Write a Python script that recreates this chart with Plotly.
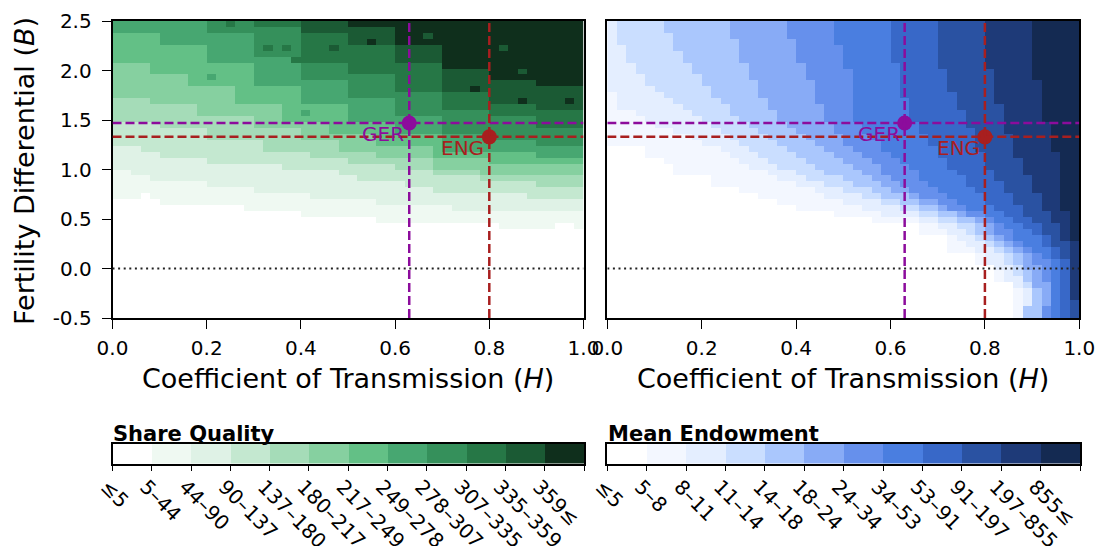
import numpy as np
import plotly.graph_objects as go

# ---------------- data ----------------
# Bin labels of the two classified colour scales
green_labels = ["≤5", "5–44", "44–90", "90–137", "137–180", "180–217", "217–249",
                "249–278", "278–307", "307–335", "335–359", "359≤"]
blue_labels = ["≤5", "5–8", "8–11", "11–14", "14–18", "18–24", "24–34",
               "34–53", "53–91", "91–197", "197–855", "855≤"]

green_colors = ["#ffffff", "#eff9f2", "#dff2e6", "#c4e8d0", "#a5dcb8", "#86d0a0",
                "#63c086", "#47a771", "#35905b", "#267746", "#1b5a34", "#0f2f1c"]
blue_colors = ["#ffffff", "#f3f7ff", "#e4eeff", "#cadeff", "#aac7fd", "#88abf6",
               "#6690ec", "#4a7ee0", "#3868c8", "#2a52a2", "#1e3a78", "#142a52"]

# Grid of the simulation: 50 values of H (0..1) x 50 values of B (-0.5..2.5)
h_values = (np.arange(50) + 0.5) / 50
b_values = -0.5 + (np.arange(50) + 0.5) * 0.06

# Share Quality: for each H column, the B above which the share exceeds each class limit
g_t1 = [0.70, 0.70, 0.70, 0.76, 0.70, 0.64, 0.64, 0.64, 0.64, 0.64,
        0.64, 0.64, 0.64, 0.64, 0.58, 0.58, 0.58, 0.58, 0.58, 0.58,
        0.52, 0.52, 0.52, 0.52, 0.52, 0.52, 0.52, 0.52, 0.46, 0.46,
        0.46, 0.46, 0.46, 0.46, 0.46, 0.46, 0.46, 0.46, 0.46, 0.46,
        0.46, 0.40, 0.40, 0.40, 0.40, 0.40, 0.40, 0.46, 0.46, 0.40]
g_t2 = [1.00, 1.00, 0.94, 0.94, 0.88, 0.88, 0.88, 0.88, 0.88, 0.88,
        0.82, 0.82, 0.82, 0.82, 0.82, 0.76, 0.76, 0.76, 0.76, 0.76,
        0.76, 0.70, 0.70, 0.70, 0.70, 0.70, 0.70, 0.70, 0.64, 0.64,
        0.64, 0.64, 0.64, 0.64, 0.64, 0.64, 0.58, 0.58, 0.58, 0.58,
        0.58, 0.58, 0.58, 0.58, 0.58, 0.58, 0.58, 0.58, 0.58, 0.58]
g_t3 = [1.24, 1.24, 1.24, 1.18, 1.18, 1.12, 1.12, 1.12, 1.12, 1.12,
        1.06, 1.06, 1.06, 1.06, 1.06, 1.06, 1.06, 1.06, 1.00, 1.00,
        1.00, 1.00, 1.00, 1.00, 0.94, 0.94, 0.88, 0.88, 0.88, 0.88,
        0.88, 0.82, 0.82, 0.82, 0.76, 0.76, 0.76, 0.76, 0.76, 0.76,
        0.76, 0.76, 0.76, 0.76, 0.70, 0.70, 0.70, 0.70, 0.70, 0.70]
g_t4 = [1.48, 1.48, 1.48, 1.48, 1.48, 1.42, 1.42, 1.42, 1.42, 1.42,
        1.30, 1.30, 1.30, 1.30, 1.30, 1.30, 1.18, 1.18, 1.18, 1.18,
        1.18, 1.12, 1.12, 1.12, 1.12, 1.06, 1.06, 1.06, 1.06, 1.06,
        1.00, 1.00, 1.00, 1.00, 0.94, 0.94, 0.94, 0.94, 0.94, 0.88,
        0.88, 0.88, 0.88, 0.88, 0.88, 0.82, 0.82, 0.82, 0.82, 0.82]
g_t5 = [1.72, 1.72, 1.72, 1.72, 1.66, 1.66, 1.66, 1.66, 1.66, 1.54,
        1.54, 1.54, 1.54, 1.54, 1.54, 1.42, 1.42, 1.42, 1.42, 1.42,
        1.30, 1.30, 1.30, 1.30, 1.18, 1.18, 1.18, 1.18, 1.12, 1.12,
        1.12, 1.12, 1.12, 1.12, 1.00, 1.00, 1.00, 1.00, 1.00, 0.94,
        0.94, 0.94, 0.94, 0.94, 0.94, 0.94, 0.94, 0.94, 0.94, 0.94]
g_t6 = [2.08, 2.08, 2.08, 2.08, 1.96, 1.96, 1.96, 1.96, 1.84, 1.84,
        1.84, 1.84, 1.84, 1.66, 1.66, 1.66, 1.66, 1.66, 1.48, 1.48,
        1.48, 1.48, 1.48, 1.36, 1.36, 1.36, 1.36, 1.36, 1.24, 1.24,
        1.24, 1.24, 1.24, 1.24, 1.12, 1.12, 1.12, 1.12, 1.12, 1.12,
        1.06, 1.06, 1.06, 1.06, 1.06, 1.06, 1.06, 1.06, 1.06, 1.06]
g_t7 = [2.38, 2.38, 2.38, 2.38, 2.38, 2.26, 2.26, 2.26, 2.26, 2.26,
        2.08, 2.08, 2.08, 2.08, 2.08, 1.84, 1.84, 1.84, 1.84, 1.84,
        1.66, 1.66, 1.66, 1.66, 1.66, 1.48, 1.48, 1.48, 1.48, 1.48,
        1.36, 1.36, 1.36, 1.36, 1.36, 1.18, 1.18, 1.18, 1.18, 1.18,
        1.18, 1.18, 1.18, 1.18, 1.18, 1.12, 1.12, 1.12, 1.12, 1.12]
g_t8 = [None, None, None, None, None, None, None, None, None, None,
        2.38, 2.38, 2.38, 2.38, 2.38, 2.14, 2.14, 2.14, 2.14, 2.14,
        1.90, 1.90, 1.90, 1.90, 1.90, 1.72, 1.72, 1.72, 1.72, 1.72,
        1.54, 1.54, 1.54, 1.54, 1.54, 1.36, 1.36, 1.36, 1.36, 1.36,
        1.30, 1.30, 1.30, 1.30, 1.30, 1.24, 1.24, 1.24, 1.24, 1.24]
g_t9 = [None, None, None, None, None, None, None, None, None, None,
        None, None, None, None, None, 2.44, 2.44, 2.44, 2.44, 2.44,
        2.08, 2.08, 2.08, 2.08, 2.08, 1.96, 1.96, 1.96, 1.96, 1.96,
        1.78, 1.78, 1.78, 1.78, 1.78, 1.60, 1.60, 1.60, 1.60, 1.60,
        1.54, 1.54, 1.54, 1.54, 1.54, 1.42, 1.42, 1.42, 1.42, 1.42]
g_t10 = [None, None, None, None, None, None, None, None, None, None,
         None, None, None, None, None, None, None, None, None, None,
         2.38, 2.38, 2.38, 2.38, 2.38, 2.26, 2.26, 2.26, 2.26, 2.26,
         2.08, 2.08, 2.08, 2.08, 2.08, 1.78, 1.78, 1.78, 1.78, 1.78,
         1.66, 1.66, 1.66, 1.66, 1.66, 1.60, 1.60, 1.60, 1.60, 1.60]
g_t11 = [None, None, None, None, None, None, None, None, None, None,
         None, None, None, None, None, None, None, None, None, None,
         None, None, None, None, None, 2.44, 2.44, 2.44, 2.44, 2.44,
         2.26, 2.26, 2.26, 2.26, 2.26, 2.02, 2.02, 2.02, 2.02, 2.02,
         1.90, 1.90, 1.90, 1.90, 1.90, 1.84, 1.84, 1.84, 1.84, 1.84]

# isolated Share Quality cells that differ from their neighbourhood (H, B, class)
speckle_h = [0.33, 0.37, 0.39, 0.47, 0.45, 0.25, 0.09, 0.15, 0.29, 0.55,
             0.67, 0.83, 0.87, 0.97, 0.87, 0.77, 0.21, 0.41]
speckle_b = [2.23, 2.23, 2.11, 2.23, 2.41, 2.47, 2.23, 2.05, 2.17, 2.29,
             2.35, 2.23, 1.99, 1.69, 1.69, 1.81, 1.93, 1.57]
speckle_class = [9, 9, 9, 10, 10, 9, 6, 6, 7, 11,
                 10, 10, 10, 11, 11, 11, 7, 7]

# Mean Endowment: for each B row (bottom to top), the H above which each class limit is exceeded
b_t1 = [0.86, 0.86, 0.86, 0.86, 0.86, 0.86, 0.82, 0.82, 0.82, 0.78,
        0.78, 0.72, 0.72, 0.72, 0.66, 0.66, 0.56, 0.48, 0.40, 0.36,
        0.32, 0.28, 0.22, 0.22, 0.14, 0.14, 0.12, 0.08, 0.08, 0.00,
        0.00, 0.00, 0.00, 0.00, 0.00, 0.00, 0.00, 0.00, 0.00, 0.00,
        0.00, 0.00, 0.00, 0.00, 0.00, 0.00, 0.00, 0.00, 0.00, 0.00]
b_t2 = [0.88, 0.88, 0.88, 0.88, 0.88, 0.86, 0.84, 0.84, 0.82, 0.80,
        0.80, 0.78, 0.76, 0.74, 0.72, 0.70, 0.66, 0.58, 0.54, 0.50,
        0.46, 0.44, 0.40, 0.36, 0.34, 0.30, 0.28, 0.26, 0.24, 0.20,
        0.18, 0.14, 0.10, 0.08, 0.06, 0.02, 0.02, 0.02, 0.00, 0.00,
        0.00, 0.00, 0.00, 0.00, 0.00, 0.00, 0.00, 0.00, 0.00, 0.00]
b_t3 = [0.88, 0.88, 0.90, 0.90, 0.90, 0.88, 0.88, 0.86, 0.86, 0.84,
        0.84, 0.82, 0.80, 0.78, 0.76, 0.74, 0.70, 0.66, 0.62, 0.58,
        0.54, 0.50, 0.46, 0.42, 0.40, 0.36, 0.34, 0.32, 0.30, 0.28,
        0.26, 0.24, 0.22, 0.20, 0.18, 0.16, 0.14, 0.12, 0.10, 0.08,
        0.08, 0.06, 0.06, 0.04, 0.04, 0.04, 0.02, 0.02, 0.02, 0.02]
b_t4 = [0.88, 0.88, 0.90, 0.90, 0.90, 0.90, 0.88, 0.88, 0.88, 0.86,
        0.86, 0.84, 0.82, 0.80, 0.78, 0.78, 0.74, 0.70, 0.66, 0.62,
        0.58, 0.56, 0.52, 0.50, 0.46, 0.44, 0.42, 0.40, 0.38, 0.36,
        0.34, 0.32, 0.30, 0.28, 0.26, 0.26, 0.24, 0.22, 0.22, 0.20,
        0.20, 0.18, 0.18, 0.16, 0.16, 0.14, 0.14, 0.14, 0.12, 0.12]
b_t5 = [0.92, 0.92, 0.92, 0.92, 0.92, 0.90, 0.90, 0.90, 0.88, 0.88,
        0.88, 0.86, 0.84, 0.82, 0.80, 0.80, 0.78, 0.74, 0.70, 0.66,
        0.64, 0.60, 0.58, 0.56, 0.54, 0.52, 0.50, 0.48, 0.46, 0.44,
        0.42, 0.40, 0.38, 0.36, 0.36, 0.34, 0.34, 0.32, 0.32, 0.32,
        0.30, 0.30, 0.30, 0.28, 0.28, 0.28, 0.28, 0.26, 0.26, 0.26]
b_t6 = [0.92, 0.92, 0.94, 0.94, 0.94, 0.94, 0.92, 0.92, 0.92, 0.90,
        0.90, 0.88, 0.86, 0.84, 0.82, 0.82, 0.80, 0.76, 0.72, 0.70,
        0.66, 0.64, 0.62, 0.60, 0.58, 0.58, 0.56, 0.54, 0.52, 0.50,
        0.50, 0.48, 0.48, 0.46, 0.46, 0.46, 0.44, 0.44, 0.44, 0.44,
        0.42, 0.42, 0.42, 0.40, 0.40, 0.40, 0.40, 0.38, 0.38, 0.38]
b_t7 = [0.94, 0.94, 0.94, 0.94, 0.94, 0.94, 0.94, 0.94, 0.94, 0.94,
        0.92, 0.90, 0.88, 0.86, 0.86, 0.84, 0.82, 0.80, 0.76, 0.74,
        0.72, 0.70, 0.68, 0.66, 0.66, 0.64, 0.62, 0.60, 0.58, 0.58,
        0.56, 0.54, 0.54, 0.52, 0.52, 0.52, 0.52, 0.52, 0.52, 0.52,
        0.52, 0.52, 0.50, 0.50, 0.50, 0.50, 0.48, 0.48, 0.48, 0.48]
b_t8 = [0.96, 0.96, 0.96, 0.96, 0.96, 0.96, 0.96, 0.96, 0.96, 0.96,
        0.94, 0.94, 0.92, 0.92, 0.90, 0.88, 0.86, 0.84, 0.82, 0.80,
        0.80, 0.78, 0.76, 0.76, 0.74, 0.72, 0.72, 0.70, 0.70, 0.68,
        0.68, 0.66, 0.66, 0.64, 0.64, 0.64, 0.64, 0.62, 0.62, 0.62,
        0.62, 0.62, 0.62, 0.60, 0.60, 0.60, 0.60, 0.60, 0.60, 0.60]
b_t9 = [0.98, 0.98, 0.98, 0.98, 0.98, 0.98, 0.98, 0.98, 0.98, 0.98,
        0.96, 0.96, 0.94, 0.94, 0.92, 0.92, 0.90, 0.88, 0.88, 0.86,
        0.86, 0.84, 0.84, 0.82, 0.82, 0.80, 0.80, 0.80, 0.78, 0.78,
        0.78, 0.78, 0.76, 0.76, 0.76, 0.74, 0.74, 0.74, 0.72, 0.72,
        0.72, 0.72, 0.70, 0.70, 0.70, 0.70, 0.70, 0.70, 0.70, 0.70]
b_t10 = [None, None, None, 0.98, 0.98, 0.98, 0.98, 0.98, 0.98, 0.98,
         0.98, 0.98, 0.98, 0.96, 0.96, 0.96, 0.94, 0.94, 0.92, 0.92,
         0.92, 0.90, 0.90, 0.90, 0.88, 0.88, 0.88, 0.86, 0.86, 0.86,
         0.86, 0.84, 0.84, 0.84, 0.84, 0.84, 0.82, 0.82, 0.82, 0.82,
         0.82, 0.82, 0.80, 0.80, 0.80, 0.80, 0.80, 0.80, 0.80, 0.80]
b_t11 = [None, None, None, None, None, None, None, None, None, None,
         None, None, None, 0.98, 0.98, 0.98, 0.98, 0.98, 0.96, 0.96,
         0.96, 0.96, 0.96, 0.96, 0.96, 0.96, 0.96, 0.96, 0.94, 0.94,
         0.94, 0.94, 0.94, 0.92, 0.92, 0.92, 0.92, 0.92, 0.92, 0.92,
         0.90, 0.90, 0.90, 0.90, 0.90, 0.90, 0.90, 0.90, 0.90, 0.90]

# Countries
country_names = ["GER", "ENG"]
country_h = [0.63, 0.80]
country_b = [1.47, 1.33]
country_colors = ["#8c0c9c", "#a81f1f"]

# ---------------- build the classified grids ----------------
green_thr = [g_t1, g_t2, g_t3, g_t4, g_t5, g_t6, g_t7, g_t8, g_t9, g_t10, g_t11]
blue_thr = [b_t1, b_t2, b_t3, b_t4, b_t5, b_t6, b_t7, b_t8, b_t9, b_t10, b_t11]

green_z = np.zeros((50, 50), dtype=int)
for t in green_thr:
    tt = np.array(t, dtype=float)
    green_z += (b_values[:, None] >= tt[None, :]).astype(int)
for hv, bv, k in zip(speckle_h, speckle_b, speckle_class):
    ci = int(np.argmin(np.abs(h_values - hv)))
    ri = int(np.argmin(np.abs(b_values - bv)))
    green_z[ri, ci] = k

blue_z = np.zeros((50, 50), dtype=int)
for t in blue_thr:
    tt = np.array(t, dtype=float)
    blue_z += (h_values[None, :] >= tt[:, None]).astype(int)


def discrete_scale(colors):
    n = len(colors)
    cs = []
    for i, c in enumerate(colors):
        cs.append([i / n, c])
        cs.append([(i + 1) / n, c])
    return cs


W, HGT = 1097, 546
FONT = "DejaVu Sans"


def px_x(p):
    return p / W


def px_y(p):
    return 1 - p / HGT


xd1 = [px_x(112.5), px_x(583.5)]
xd2 = [px_x(607.3), px_x(1079.3)]
yd = [px_y(318), px_y(21)]
ycb = [px_y(463.5), px_y(444)]

fig = go.Figure()

fig.add_trace(go.Heatmap(x=h_values, y=b_values, z=green_z, colorscale=discrete_scale(green_colors),
                         zmin=-0.5, zmax=11.5, showscale=False, hoverinfo="skip",
                         xaxis="x", yaxis="y"))
fig.add_trace(go.Heatmap(x=h_values, y=b_values, z=blue_z, colorscale=discrete_scale(blue_colors),
                         zmin=-0.5, zmax=11.5, showscale=False, hoverinfo="skip",
                         xaxis="x2", yaxis="y2"))

# colour bars drawn as one-row heatmaps
cb_x = [i + 0.5 for i in range(12)]
cb_z = [list(range(12))]
fig.add_trace(go.Heatmap(x=cb_x, y=[0], z=cb_z, colorscale=discrete_scale(green_colors),
                         zmin=-0.5, zmax=11.5, showscale=False, hoverinfo="skip",
                         xaxis="x3", yaxis="y3"))
fig.add_trace(go.Heatmap(x=cb_x, y=[0], z=cb_z, colorscale=discrete_scale(blue_colors),
                         zmin=-0.5, zmax=11.5, showscale=False, hoverinfo="skip",
                         xaxis="x4", yaxis="y4"))

shapes = []
annotations = []
for xr, yr in [("x", "y"), ("x2", "y2")]:
    # dotted zero line
    shapes.append(dict(type="line", xref=xr, yref=yr, x0=0, x1=1, y0=0, y1=0,
                       line=dict(color="#222222", width=1.8, dash="2px,3.6px"), layer="above"))
    for name, hv, bv, col in zip(country_names, country_h, country_b, country_colors):
        shapes.append(dict(type="line", xref=xr, yref=yr, x0=0, x1=1, y0=bv, y1=bv,
                           line=dict(color=col, width=2.5, dash="9px,4px"), layer="above"))
        shapes.append(dict(type="line", xref=xr, yref=yr, x0=hv, x1=hv, y0=-0.5, y1=2.5,
                           line=dict(color=col, width=2.5, dash="9px,4px"), layer="above"))
    for name, hv, bv, col in zip(country_names, country_h, country_b, country_colors):
        fig.add_trace(go.Scatter(x=[hv], y=[bv], mode="markers", xaxis=xr, yaxis=yr,
                                 marker=dict(size=15, color=col), hoverinfo="skip",
                                 showlegend=False, cliponaxis=False))
        annotations.append(dict(x=hv, y=bv, xref=xr, yref=yr, text=name, showarrow=False,
                                xanchor="right", yanchor="middle", xshift=-3, yshift=-11,
                                font=dict(family=FONT, size=20, color=col)))

# axis titles
for xd in (xd1, xd2):
    annotations.append(dict(x=(xd[0] + xd[1]) / 2, y=px_y(378), xref="paper", yref="paper",
                            text="Coefficient of Transmission (<i>H</i>)", showarrow=False,
                            xanchor="center", yanchor="middle",
                            font=dict(family=FONT, size=27, color="black")))
annotations.append(dict(x=px_x(24), y=px_y(171), xref="paper", yref="paper",
                        text="Fertility Differential (<i>B</i>)", showarrow=False, textangle=-90,
                        xanchor="center", yanchor="middle",
                        font=dict(family=FONT, size=27, color="black")))
# colour bar titles
annotations.append(dict(x=px_x(111), y=px_y(434), xref="paper", yref="paper",
                        text="<b>Share Quality</b>", showarrow=False, xanchor="left", yanchor="middle",
                        font=dict(family=FONT, size=21, color="black")))
annotations.append(dict(x=px_x(606), y=px_y(434), xref="paper", yref="paper",
                        text="<b>Mean Endowment</b>", showarrow=False, xanchor="left", yanchor="middle",
                        font=dict(family=FONT, size=21, color="black")))

axis_common = dict(showline=True, linecolor="black", linewidth=1.6, mirror=True,
                   ticks="outside", ticklen=9, tickwidth=1.4, tickcolor="black",
                   showgrid=False, zeroline=False, automargin=False,
                   tickfont=dict(family=FONT, size=20, color="black"))
x_ticks = [0.0, 0.2, 0.4, 0.6, 0.8, 1.0]
x_ticktext = ["0.0", "0.2", "0.4", "0.6", "0.8", "1.0"]
y_ticks = [-0.5, 0.0, 0.5, 1.0, 1.5, 2.0, 2.5]
y_ticktext = ["-0.5", "0.0", "0.5", "1.0", "1.5", "2.0", "2.5"]

cb_axis = dict(showline=True, linecolor="black", linewidth=1.6, mirror=True,
               ticks="outside", ticklen=6, tickwidth=1.4, tickcolor="black",
               showgrid=False, zeroline=False, range=[0, 12], automargin=False,
               tickvals=list(range(13)), tickangle=45, ticklabelshift=-6, ticklabelstandoff=-4,
               tickfont=dict(family=FONT, size=20, color="black"))
hidden_y = dict(range=[-0.5, 0.5], showline=True, linecolor="black", linewidth=1.6, mirror=True,
                ticks="", showticklabels=False, showgrid=False, zeroline=False, automargin=False)

fig.update_layout(
    width=W, height=HGT, autosize=False,
    margin=dict(l=0, r=0, t=0, b=0, pad=0),
    paper_bgcolor="white", plot_bgcolor="white",
    showlegend=False,
    xaxis=dict(domain=xd1, range=[0, 1], anchor="y", tickvals=x_ticks, ticktext=x_ticktext,
               ticklabelstandoff=2, **axis_common),
    yaxis=dict(domain=yd, range=[-0.5, 2.5], anchor="x", tickvals=y_ticks, ticktext=y_ticktext,
               ticklabelstandoff=6, **axis_common),
    xaxis2=dict(domain=xd2, range=[0, 1], anchor="y2", tickvals=x_ticks, ticktext=x_ticktext,
                ticklabelstandoff=2, **axis_common),
    yaxis2=dict(domain=yd, range=[-0.5, 2.5], anchor="x2", showline=True, linecolor="black",
                linewidth=1.6, mirror=True, ticks="", showticklabels=False, showgrid=False,
                zeroline=False, automargin=False),
    xaxis3=dict(domain=[px_x(112.5), px_x(584)], anchor="y3", ticktext=green_labels + [""], **cb_axis),
    yaxis3=dict(domain=ycb, anchor="x3", **hidden_y),
    xaxis4=dict(domain=[px_x(607.3), px_x(1080)], anchor="y4", ticktext=blue_labels + [""], **cb_axis),
    yaxis4=dict(domain=ycb, anchor="x4", **hidden_y),
    shapes=shapes,
    annotations=annotations,
)

fig.write_html("out.html")
